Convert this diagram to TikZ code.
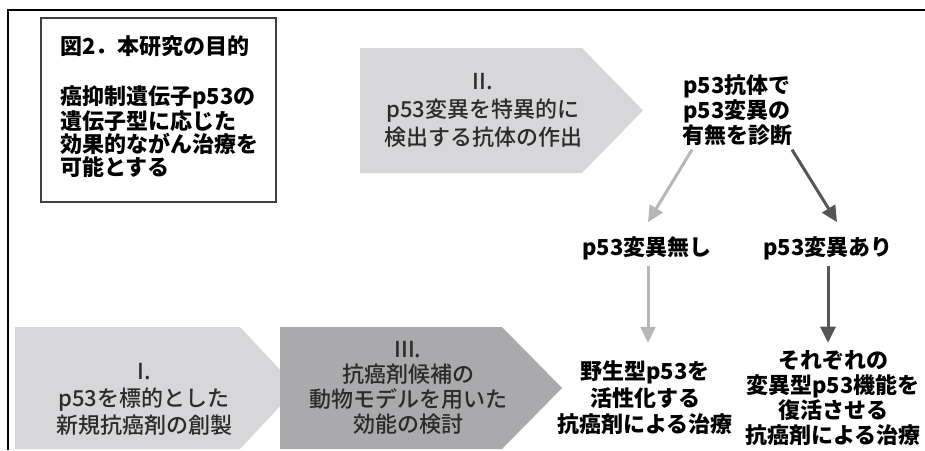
\documentclass[tikz,border=0pt]{standalone}
\usepackage{fontspec}
\setmainfont{Noto Sans CJK JP}
\newfontfamily\medfont{Noto Sans CJK JP Medium}
\usetikzlibrary{arrows.meta}
\definecolor{lightfill}{HTML}{D7D7D9}
\definecolor{midfill}{HTML}{AAAAAC}
\definecolor{lightarrow}{HTML}{B7B7B9}
\definecolor{darkarrow}{HTML}{555557}
\definecolor{graytext}{HTML}{2B2B2B}
\tikzset{
  boldtext/.style={inner sep=0pt, align=center, font=\fontsize{22}{26}\selectfont\bfseries, text=black},
  boxtext/.style={inner sep=0pt, align=left, font=\fontsize{22}{23}\selectfont\bfseries, text=black},
  arrowtext/.style={inner sep=0pt, align=center, text=graytext},
  lightconn/.style={draw=lightarrow, line width=3pt, -{Triangle[length=16pt,width=15pt]}},
  darkconn/.style={draw=darkarrow, line width=3pt, -{Triangle[length=16pt,width=15pt]}},
}
\begin{document}
\begin{tikzpicture}[x=1pt,y=-1pt]
\useasboundingbox (0,0) rectangle (925,450);
% outer frame (cut off)
\draw[line width=2.2pt] (8,450) -- (8,10) -- (925,10);
% title box
\node[draw=black!75, line width=1.3pt, minimum width=235pt, minimum height=184pt, inner sep=0pt] (titlebox) at (158.5,110) {};
\node[boxtext, anchor=west] (title) at (60,46) {図2．本研究の目的};
\node[boxtext, anchor=west] (goal) at (60,131.5) {癌抑制遺伝子p53の\\遺伝子型に応じた\\効果的ながん治療を\\可能とする};
% chevron shapes
\fill[lightfill] (360,48) -- (582,48) -- (643,110.5) -- (582,173) -- (360,173) -- cycle;
\fill[lightfill] (15,327) -- (240,327) -- (297,388) -- (240,449) -- (15,449) -- cycle;
\fill[midfill] (280,327) -- (502,327) -- (562,388) -- (502,449) -- (280,449) -- cycle;
% chevron texts
\node[arrowtext, font=\medfont\fontsize{22}{28}\selectfont] (stepII) at (483,110) {II.\\p53変異を特異的に\\検出する抗体の作出};
\node[arrowtext, font=\medfont\fontsize{22}{27}\selectfont] (stepI) at (144,399) {I.\\p53を標的とした\\新規抗癌剤の創製};
\node[arrowtext, font=\medfont\fontsize{22}{25}\selectfont] (stepIII) at (408,388) {III.\\抗癌剤候補の\\動物モデルを用いた\\効能の検討};
% decision texts
\node[boldtext, font=\fontsize{22}{25}\selectfont\bfseries] (diag) at (737,110) {p53抗体で\\p53変異の\\有無を診断};
\node[boldtext] (nashi) at (647,248) {p53変異無し};
\node[boldtext] (ari) at (828,248) {p53変異あり};
\node[boldtext, font=\fontsize{22}{26.5}\selectfont\bfseries] (wild) at (645,398) {野生型p53を\\活性化する\\抗癌剤による治療};
\node[boldtext, font=\fontsize{22}{25}\selectfont\bfseries] (mut) at (833,398) {それぞれの\\変異型p53機能を\\復活させる\\抗癌剤による治療};
% connectors
\coordinate (c1s) at ([xshift=-45pt,yshift=-4pt]diag.south);
\coordinate (c1e) at ([xshift=1pt,yshift=14pt]nashi.north);
\coordinate (c2s) at ([xshift=55pt,yshift=-4pt]diag.south);
\coordinate (c2e) at ([xshift=9pt,yshift=14pt]ari.north);
\draw[lightconn] (c1s) -- (c1e);
\draw[darkconn] (c2s) -- (c2e);
\draw[lightconn] ([xshift=1pt,yshift=-6pt]nashi.south) -- ([xshift=3pt,yshift=18pt]wild.north);
\draw[darkconn] ([yshift=-6pt]ari.south) -- ([xshift=-5pt,yshift=7.5pt]mut.north);
\end{tikzpicture}
\end{document}
